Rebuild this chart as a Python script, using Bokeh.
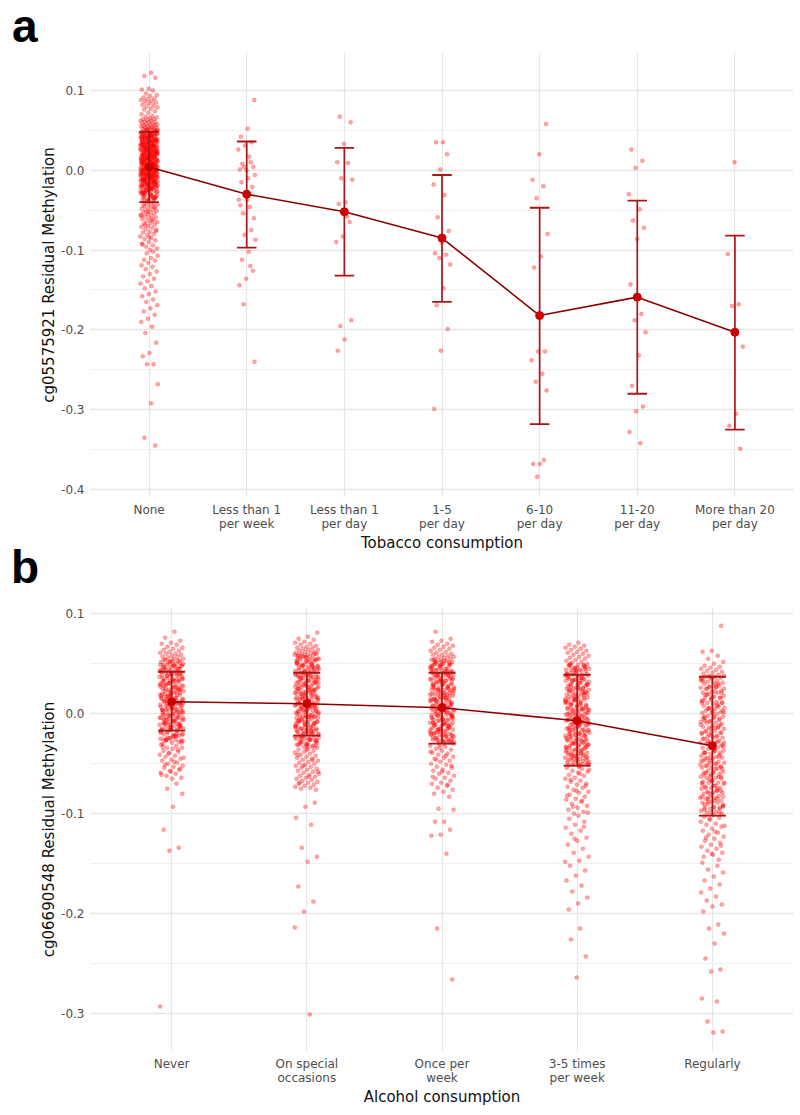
from bokeh.plotting import figure
from bokeh.layouts import column
from bokeh.models import FixedTicker, Range1d, NumeralTickFormatter, Div
from bokeh.embed import file_html
from bokeh.resources import INLINE

# ------------------------------------------------------------------ data
# Panel a: tobacco consumption
tob_labels = ["None", "Less than 1\nper week", "Less than 1\nper day", "1-5\nper day",
              "6-10\nper day", "11-20\nper day", "More than 20\nper day"]
tob_mean = [0.004, -0.030, -0.052, -0.085, -0.182, -0.159, -0.203]
tob_upper = [0.048, 0.036, 0.028, -0.006, -0.047, -0.038, -0.082]
tob_lower = [-0.040, -0.097, -0.132, -0.165, -0.318, -0.280, -0.325]

# individual residuals, in thousandths
tob_none = [122, 118, 116, 102, 101, 100,
            96, 94, 93, 91, 90, 89, 88, 87, 86, 85, 84, 82, 81, 80, 79, 77, 76, 74, 72, 70, 68, 67, 66,
            65, 64, 64, 63, 62, 62, 61, 60, 60, 59, 58, 58, 57, 57, 56, 56, 55, 55, 54, 54, 53, 53, 52, 52, 51, 51, 51, 50, 50, 50,
            48, 47, 47, 45, 44, 44, 43, 41, 41, 40, 39, 38, 38, 37, 36, 35, 35, 34, 33, 33, 32, 31, 30, 30, 29, 28, 28, 27, 26, 26,
            25, 24, 23, 23, 22, 21, 21, 20, 19, 19, 18, 17, 17, 16, 15, 14, 14, 13, 12, 12, 11, 10, 10, 9, 8, 8, 7, 6, 5, 5, 4, 3,
            3, 2, 1, 1, 0, -1, -2, -2, -3, -4, -5, -5, -6, -7, -8, -8, -9, -10, -11, -12, -12, -13, -14, -15, -16, -17, -18, -19,
            -20, -21, -22, -24, -25, -26, -28, -29, -31, -32, -34, -35, -37, -39,
            49, 46, 46, 45, 43, 42, 40, 39, 37, 36, 34, 32, 31, 29, 27, 25, 24, 22, 20, 18, 16, 15, 13, 11, 9, 7, 6, 4, 2, 0,
            -1, -3, -4, -6, -7, -9, -11, -13, -14, -16, -18, -20, -23, -27, -30, -33, -36, -38,
            47, 44, 42, 39, 37, 34, 31, 28, 26, 23, 21, 18, 16, 13, 11, 8, 6, 3, 1, -2, -4, -6, -9, -11, -14, -17, -19, -22, -26, -31,
            45, 41, 38, 35, 32, 29, 27, 24, 21, 19, 17, 14, 12, 9, 7, 4, 2, 0, -3, -5, -8, -10, -13, -15, -18, -21, -24, -28, -33, -40,
            43, 36, 33, 30, 25, 22, 20, 15, 10, 5, 1, -1, -7, -10, -12, -16, -19, -23, -29,
            48, 42, 37, 31, 27, 23, 17, 14, 8, 3, -2, -6, -11, -15, -20, -27, -35,
            50, 49, 47, 46, 45, 44, 42, 41, 40, 38, 37, 36, 34, 33, 32, 30, 29, 28, 26, 25, 24, 22, 21, 20, 18, 17, 16,
            14, 13, 12, 10, 9, 8, 6, 5, 4, 2, 1, 0, -2, -3, -4, -6, -7, -8, -10, -11, -12, -14, -15, -16, -18, -19,
            -21, -23, -25, -27, -30, -32, -35, -38,
            46, 43, 40, 37, 35, 32, 29, 26, 23, 21, 18, 15, 12, 9, 7, 4, 1, -1, -4, -7, -9, -12, -15, -18, -21, -25, -29, -34,
            44, 39, 34, 28, 24, 19, 13, 8, 3, -3, -8, -13, -17, -22, -26, -32, -37,
            49, 41, 36, 30, 25, 20, 15, 11, 5, 0, -5, -9, -14, -19, -24, -28,
            -41, -42, -43, -44, -45, -46, -47, -48, -49, -50, -51, -52, -53, -54, -55, -56, -57, -58, -59, -60, -61, -62,
            -64, -65, -66, -67, -68, -70, -71, -72, -74, -75, -77, -78, -80, -81, -83, -85, -86, -88, -90, -92, -94, -96,
            -98, -100, -43, -47, -52, -57, -63, -69, -76, -84, -93,
            -102, -104, -107, -110, -112, -113, -116, -119, -121, -124, -127, -130, -133, -136, -139, -142, -145, -148,
            -152, -155, -158, -162, -165, -169, -173, -177, -181, -186, -190, -196,
            -204, -216, -229, -233, -243, -243, -268, -292, -335, -345]
tob_lt1_week = [88, 52, 42, 35, 31, 26, 17, 8, 4, 0, 1, 10, 4, -6, -10, -15, -21, -29, -37, -46, -54, -60,
                -37, -44, -75, -81, -87, -102, -112, -126, -136, -144, -120, -168, -240]
tob_lt1_day = [67, 60, 33, 10, 9, -10, -12, -40, -42, -65, -83, -90, -58, -195, -188, -212, -226]
tob_1_5 = [35, 35, 20, 1, -18, -31, -59, -76, -91, -104, -106, -110, -118, -148, -169, -199, -226, -299]
tob_6_10 = [58, 20, -12, -20, -35, -80, -108, -122, -227, -227, -238, -255, -265, -276, -368, -368, -363, -384]
tob_11_20 = [26, 12, 3, -30, -49, -63, -72, -86, -143, -180, -188, -203, -232, -270, -296, -302, -328, -342]
tob_gt20 = [10, -105, -168, -170, -221, -305, -320, -349]
tob_points = [tob_none, tob_lt1_week, tob_lt1_day, tob_1_5, tob_6_10, tob_11_20, tob_gt20]

# Panel b: alcohol consumption
alc_labels = ["Never", "On special\noccasions", "Once per\nweek", "3-5 times\nper week", "Regularly"]
alc_mean = [0.012, 0.010, 0.006, -0.007, -0.032]
alc_upper = [0.042, 0.041, 0.041, 0.039, 0.037]
alc_lower = [-0.017, -0.022, -0.030, -0.052, -0.102]

alc_never = [82, 76, 73, 71, 70, 69, 67, 66, 65, 64, 63, 62, 61, 60, 60, 59, 58, 57, 57, 56, 55, 55,
             54, 53, 52, 52, 50, 49, 48, 48, 47, 45, 44, 43, 43, 41, 40, 39, 39, 38, 36, 35, 34, 34, 33, 31, 30,
             29, 29, 28, 26, 25, 24, 24, 23, 21, 20, 19, 19, 18, 16, 15, 14, 14, 13, 11, 10, 9, 9, 8, 6, 5, 4,
             4, 3, 1, 0, -1, -1, -2, -4, -5, -6, -6, -7, -9, -10, -11, -11, -12, -14, -15, -16, -16, -17, -19,
             -20, -21, -21, -22, -24, -25, -26, -26, -27, -29, -30,
             53, 51, 50, 48, 46, 45, 43, 42, 40, 38, 37, 35, 33, 32, 30, 29, 27, 25, 24, 22, 20, 19, 17, 15, 14,
             12, 10, 9, 7, 5, 4, 2, 0, -1, -3, -5, -6, -8, -10, -11, -13, -15, -16, -18, -21, -23, -26, -28,
             52, 49, 47, 44, 41, 39, 36, 34, 31, 28, 26, 23, 21, 18, 16, 13, 11, 8, 6, 3, 1, -2, -4, -7, -9,
             -12, -14, -17, -20, -24, -27,
             50, 45, 39, 33, 27, 22, 17, 12, 6, 1, -4, -9, -15, -22,
             54, 51, 47, 44, 42, 38, 35, 32, 28, 25, 22, 19, 16, 13, 10, 7, 4, 2, -1, -4, -7, -10, -13, -16,
             -19, -23, -26, -29, 53, 49, 45, 41, 37, 33, 29, 24, 20, 15, 11, 7, 3, -2, -6, -10, -14, -18, -22,
             -27, 48, 40, 32, 26, 18, 11, 3, -5, -13, -25,
             -31, -32, -34, -34, -35, -37, -38, -39, -41, -42, -43, -45, -46, -47, -49, -50, -52, -53, -54, -56,
             -57, -59, -60, -62, -64, -65, -33, -36, -40, -44, -48, -51, -55, -58, -61,
             -70, -75, -80, -93, -116, -134, -137, -293]
alc_special = [81, 77, 75, 74, 72, 71, 70, 69, 68, 67, 66, 66, 65, 64, 64, 63, 62, 62, 61, 61, 60, 60,
               59, 58, 58, 57, 55, 54, 54, 53, 52, 50, 49, 49, 48, 47, 46, 44, 43, 43, 42, 41, 39, 38, 38, 37,
               36, 35, 33, 32, 31, 31, 30, 28, 27, 26, 26, 25, 24, 22, 21, 21, 20, 19, 17, 16, 15, 15, 14, 13,
               11, 10, 9, 9, 8, 7, 5, 4, 3, 3, 2, 1, -1, -2, -3, -3, -4, -5, -7, -8, -9, -9, -10, -11, -13, -14,
               -15, -15, -16, -18, -19, -20, -20, -21, -23, -24, -25, -25, -26, -28, -29, -30, -31, -32, -33,
               59, 57, 56, 54, 53, 51, 50, 48, 47, 45, 44, 42, 41, 39, 38, 36, 35, 33, 32, 30, 29, 27, 26, 24,
               23, 21, 20, 18, 17, 15, 14, 12, 11, 9, 8, 6, 5, 3, 2, 0, -1, -3, -4, -6, -7, -9, -10, -12, -13,
               -15, -16, -18, -19, -21, -22, -24, -25, -27, -28, -30, -31, -33,
               58, 55, 52, 49, 46, 43, 40, 37, 34, 31, 28, 25, 22, 19, 16, 13, 10, 7, 4, 1, -2, -5, -8, -11, -14,
               -17, -20, -23, -26, -29, -32,
               56, 51, 46, 41, 37, 33, 28, 24, 19, 15, 10, 6, 2, -3, -7, -12, -17, -21, -26, -30,
               60, 57, 53, 50, 47, 44, 40, 37, 34, 30, 27, 24, 20, 17, 14, 10, 7, 4, 0, -3, -6, -10, -13, -16,
               -20, -23, -27, -31, 58, 54, 49, 45, 41, 36, 32, 28, 23, 19, 15, 10, 6, 2, -3, -8, -12, -17, -22,
               -27, -32, 55, 47, 39, 31, 23, 15, 7, -1, -9, -17, -25,
               -34, -35, -36, -37, -38, -39, -40, -41, -42, -43, -44, -45, -46, -47, -48, -49, -50, -51, -52, -53,
               -54, -55, -56, -57, -58, -59, -60, -61, -62, -63, -64, -65, -66, -67, -68, -69, -70, -71, -72,
               -73, -74, -75, -76, -36, -41, -46, -52, -58, -63, -69,
               -89, -93, -104, -111, -134, -143, -148, -173, -188, -198, -214, -301]
alc_weekly = [82, 75, 73, 72, 70, 69, 68, 67, 66, 65, 64, 63, 62, 61, 60, 59, 59, 58, 57, 57, 56, 55, 55, 54,
              54, 53, 52, 52, 50, 49, 48, 48, 47, 45, 44, 43, 43, 41, 40, 39, 39, 38, 36, 35, 34, 34, 33, 31,
              30, 29, 29, 28, 26, 25, 24, 24, 23, 21, 20, 19, 19, 18, 16, 15, 14, 14, 13, 11, 10, 9, 9, 8, 6,
              5, 4, 4, 3, 1, 0, -1, -1, -2, -4, -5, -6, -6, -7, -9, -10, -11, -11, -12, -14, -15, -16, -16,
              -17, -19, -20, -21, -21, -22, -24, -25, -26, -26, -27, -29, -30,
              53, 51, 50, 48, 47, 45, 44, 42, 41, 39, 38, 36, 35, 33, 32, 30, 29, 27, 26, 24, 23, 21, 20, 18,
              17, 15, 14, 12, 11, 9, 8, 6, 5, 3, 2, 0, -1, -3, -4, -6, -7, -9, -10, -12, -13, -15, -16, -18,
              -19, -21, -22, -24, -25, -27, -28, -30,
              52, 49, 46, 43, 40, 37, 34, 31, 28, 25, 22, 19, 16, 13, 10, 7, 4, 1, -2, -5, -8, -11, -14, -17,
              -20, -23, -26, -29,
              50, 44, 38, 32, 26, 20, 14, 8, 2, -4, -10, -16, -22, -28,
              54, 51, 48, 45, 42, 39, 36, 33, 30, 27, 24, 21, 18, 15, 12, 9, 6, 3, 0, -3, -6, -9, -12, -15,
              -18, -21, -24, -27, 52, 48, 43, 39, 35, 30, 26, 21, 17, 13, 8, 4, -1, -5, -9, -14, -18, -23,
              -28, 50, 41, 33, 24, 16, 7, -2, -11, -20, -29,
              -31, -32, -33, -35, -36, -37, -39, -40, -41, -43, -44, -45, -47, -48, -50, -51, -53, -54, -56,
              -57, -59, -60, -62, -64, -65, -67, -69, -70, -72, -74, -76, -78, -80, -83,
              -34, -38, -42, -46, -52, -58, -63, -71,
              -95, -96, -108, -108, -116, -121, -122, -140, -215, -266]
alc_3to5 = [71, 69, 68, 67, 66, 65, 64, 63, 62, 61, 60, 59, 58, 57, 56, 55, 54, 53, 52, 51,
            50, 49, 48, 48, 46, 45, 44, 44, 43, 41, 40, 39, 39, 38, 36, 35, 34, 34, 33, 31, 30, 29, 29, 28,
            26, 25, 24, 24, 23, 21, 20, 19, 19, 18, 16, 15, 14, 14, 13, 11, 10, 9, 9, 8, 6, 5, 4, 4, 3, 1,
            0, -1, -1, -2, -4, -5, -6, -6, -7, -9, -10, -11, -11, -12, -14, -15, -16, -16, -17, -19, -20,
            -21, -21, -22, -24, -25, -26, -26, -27, -29, -30, -31, -31, -32, -34, -35, -36, -36, -37, -39,
            -40, -41, -41, -42, -44, -45, -46, -46, -47, -49, -50, -51, -51, -53,
            49, 47, 46, 44, 43, 41, 40, 38, 37, 35, 34, 32, 31, 29, 28, 26, 25, 23, 22, 20, 19, 17, 16, 14,
            13, 11, 10, 8, 7, 5, 4, 2, 1, -1, -2, -4, -5, -7, -8, -10, -11, -13, -14, -16, -17, -19, -20,
            -22, -23, -25, -26, -28, -29, -31, -32, -34, -35, -37, -38, -40, -41, -43, -44, -46, -47, -49,
            -50, -52,
            48, 45, 42, 39, 36, 33, 30, 27, 24, 21, 18, 15, 12, 9, 6, 3, 0, -3, -6, -9, -12, -15, -18, -21,
            -24, -27, -30, -33, -36, -39, -42, -45, -48, -51,
            50, 47, 43, 40, 36, 33, 29, 26, 22, 19, 15, 12, 8, 5, 1, -2, -6, -9, -13, -16, -20, -23, -27,
            -30, -34, -37, -41, -44, -48, -51, 49, 44, 38, 33, 27, 22, 16, 11, 5, 0, -6, -11, -17, -22, -28,
            -33, -39, -44, -50, 46, 36, 25, 14, 4, -8, -19, -31, -42,
            -54, -55, -57, -58, -59, -61, -62, -64, -65, -67, -68, -70, -71, -73, -74, -76, -78, -79, -81,
            -83, -85, -86, -88, -90, -92, -94, -96, -98, -100, -56, -60, -66, -72, -77, -82, -87, -93, -99,
            -102, -105, -108, -111, -114, -117, -120, -124, -127, -131, -135, -139, -143, -147, -152, -157,
            -162, -167, -172, -178, -184, -190, -196, -113, -125, -148,
            -215, -226, -243, -264]
alc_regular = [88, 63, 62, 58, 55, 52, 50, 48, 47, 46, 45, 44, 43, 42, 41, 40, 39, 38, 38, 37,
               37, 36, 35, 35, 33, 32, 31, 31, 30, 28, 27, 26, 26, 25, 23, 22, 21, 21, 20, 18, 17, 16, 16,
               15, 13, 12, 11, 11, 10, 8, 7, 6, 6, 5, 3, 2, 1, 1, 0, -2, -3, -4, -4, -5, -7, -8, -9, -9,
               -10, -12, -13, -14, -14, -15, -17, -18, -19, -19, -20, -22, -23, -24, -24, -25, -27, -28,
               -29, -29, -30, -32, -33, -34, -34, -35, -37, -38, -39, -39, -40, -42, -43, -44, -44, -45,
               -47, -48, -49, -49, -50, -52, -53, -54, -54, -55, -57, -58, -59, -59, -60, -62, -63, -64,
               -64, -65, -67, -68, -69, -69, -70, -72, -73, -74, -74, -75, -77, -78, -79, -79, -80, -82,
               -83, -84, -84, -85, -87, -88, -89, -89, -90, -92, -93, -94, -94, -95, -97, -98, -99, -100,
               36, 33, 30, 27, 25, 22, 19, 16, 14, 11, 8, 5, 3, 0, -3, -6, -8, -11, -14, -17, -19, -22, -25,
               -28, -30, -33, -36, -39, -41, -44, -47, -50, -52, -55, -58, -61, -63, -66, -69, -72, -74, -77,
               -80, -83, -85, -88, -91, -94, -96, -99,
               37, 33, 29, 25, 21, 17, 13, 9, 5, 1, -3, -7, -11, -15, -19, -23, -27, -31, -35, -39, -43, -47,
               -51, -55, -59, -63, -67, -71, -75, -79, -83, -87, -91, -95, -99, 35, 27, 19, 11, 3, -5, -13,
               -21, -29, -37, -45, -53, -61, -69, -77, -85, -93,
               -101, -103, -104, -106, -108, -110, -111, -113, -115, -117, -119, -121, -123, -125, -127,
               -129, -131, -133, -135, -137, -139, -141, -143, -146, -105, -112, -118, -124, -132, -140,
               -149, -152, -156, -159, -163, -167, -171, -175, -179, -183, -187, -191, -193,
               -198, -211, -215, -220, -230, -245, -256, -258, -285, -288, -308, -318, -319]
alc_points = [alc_never, alc_special, alc_weekly, alc_3to5, alc_regular]

# ------------------------------------------------------------------ style
PT_COLOR = "#ff0000"
MEAN_COLOR = "#cc0000"
LINE_COLOR = "#8b0000"
ERR_COLOR = "#a81616"
GRID = "#e6e6e6"
GRID_MINOR = "#f0f0f0"
FONT = "DejaVu Sans"
GOLD = 0.6180339887


def panel(labels, means, upper, lower, points, yticks, yminor, yr, xtitle, ytitle, height, bottom):
    n = len(labels)
    cats = list(range(1, n + 1))
    p = figure(width=800, height=height, x_range=Range1d(0.4, n + 0.6), y_range=Range1d(*yr),
               output_backend="svg", toolbar_location=None,
               min_border_left=90, min_border_right=7, min_border_top=0, min_border_bottom=bottom,
               outline_line_color=None, background_fill_color="white", border_fill_color="white")

    # jittered raw points
    xs, ys = [], []
    for k, vals in enumerate(points):
        for i, v in enumerate(vals):
            off = ((i + 1) * GOLD + 0.31 * k) % 1.0
            xs.append(cats[k] + 0.09 * (2 * off - 1))
            ys.append(v / 1000.0)
    p.scatter(xs, ys, size=4, fill_color=PT_COLOR, fill_alpha=0.35,
              line_color=PT_COLOR, line_alpha=0.4, line_width=0.5)

    # mean line, error bars, mean points
    p.line(cats, means, line_color=LINE_COLOR, line_width=1.6)
    p.segment(x0=cats, y0=lower, x1=cats, y1=upper, line_color=ERR_COLOR, line_width=1.7)
    p.segment(x0=[c - 0.1 for c in cats], y0=upper, x1=[c + 0.1 for c in cats], y1=upper,
              line_color=ERR_COLOR, line_width=1.8)
    p.segment(x0=[c - 0.1 for c in cats], y0=lower, x1=[c + 0.1 for c in cats], y1=lower,
              line_color=ERR_COLOR, line_width=1.8)
    p.scatter(cats, means, size=8, fill_color=MEAN_COLOR, line_color=MEAN_COLOR)

    # axes
    p.xaxis.ticker = FixedTicker(ticks=cats)
    p.xaxis.major_label_overrides = {c: lab for c, lab in zip(cats, labels)}
    p.yaxis.ticker = FixedTicker(ticks=yticks, minor_ticks=yminor)
    p.yaxis.formatter = NumeralTickFormatter(format="0.0")
    for ax in (p.xaxis[0], p.yaxis[0]):
        ax.axis_line_color = None
        ax.major_tick_line_color = None
        ax.minor_tick_line_color = None
        ax.major_tick_out = 0
        ax.major_tick_in = 0
        ax.minor_tick_out = 0
        ax.major_label_text_font = FONT
        ax.major_label_text_font_size = "12px"
        ax.major_label_text_color = "#4d4d4d"
        ax.major_label_text_line_height = 1.05
        ax.axis_label_text_font = FONT
        ax.axis_label_text_font_size = "15px"
        ax.axis_label_text_font_style = "normal"
        ax.axis_label_text_color = "#111111"
    p.xaxis.axis_label = xtitle
    p.yaxis.axis_label = ytitle
    p.xaxis.major_label_standoff = 5
    p.xaxis.axis_label_standoff = 0
    p.yaxis.major_label_standoff = 6
    p.yaxis.axis_label_standoff = 0

    # grid
    p.xgrid.grid_line_color = GRID
    p.xgrid.grid_line_width = 1.2
    p.ygrid.grid_line_color = GRID
    p.ygrid.grid_line_width = 1.3
    p.ygrid.minor_grid_line_color = GRID_MINOR
    p.ygrid.minor_grid_line_width = 1.0
    return p


def letter(ch, height, top, left):
    html = ('<div style="font-family:\'Liberation Sans\',Arial,sans-serif;font-weight:bold;'
            'font-size:46px;line-height:40px;color:#000;position:relative;'
            f'top:{top}px;left:{left}px;margin:0;padding:0;">{ch}</div>')
    return Div(text=html, width=800, height=height, margin=0, styles={"overflow": "visible"})


pa = panel(tob_labels, tob_mean, tob_upper, tob_lower, tob_points,
           [-0.4, -0.3, -0.2, -0.1, 0.0, 0.1], [-0.35, -0.25, -0.15, -0.05, 0.05],
           (-0.41, 0.1475), "Tobacco consumption", "cg05575921 Residual Methylation",
           445 + 58, 58)
pb = panel(alc_labels, alc_mean, alc_upper, alc_lower, alc_points,
           [-0.3, -0.2, -0.1, 0.0, 0.1], [-0.25, -0.15, -0.05, 0.05],
           (-0.338, 0.1063), "Alcohol consumption", "cg06690548 Residual Methylation",
           444 + 58, 58)

layout = column(letter("a", 52, 6, 12), pa, letter("b", 52, -8, 11), pb, spacing=0)
open("out.html", "w").write(file_html(layout, INLINE))
